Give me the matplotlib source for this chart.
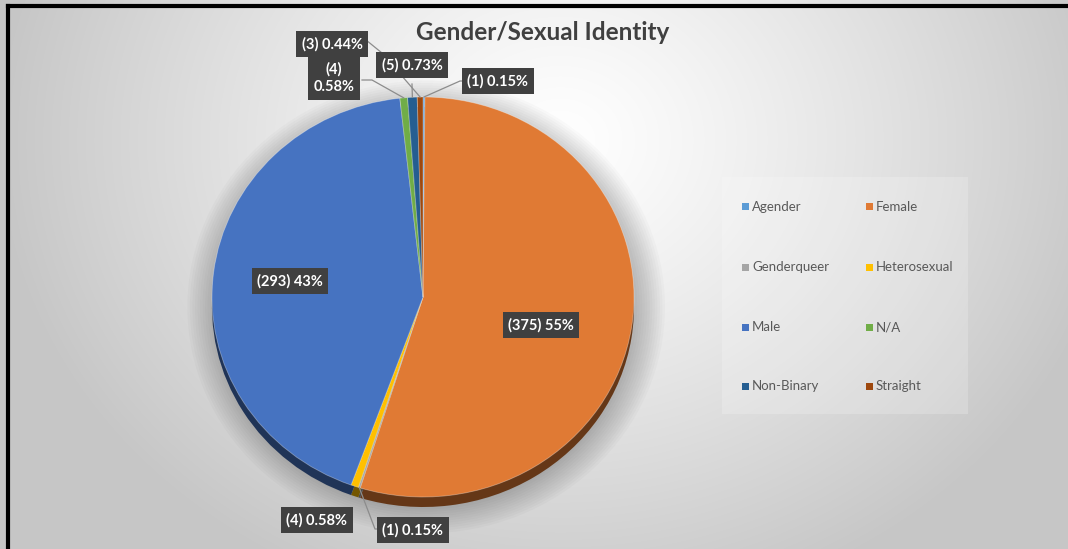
import numpy as np
import matplotlib
matplotlib.use("Agg")
import matplotlib.pyplot as plt
from matplotlib.patches import Ellipse, Rectangle
from matplotlib.lines import Line2D
import matplotlib.colors as mcolors

# ---- data ----
categories = ["Agender", "Female", "Genderqueer", "Heterosexual",
              "Male", "N/A", "Non-Binary", "Straight"]
counts = [1, 375, 1, 4, 293, 4, 5, 3]
colors = ["#5B9BD5", "#E07A34", "#A5A5A5", "#FFC000",
          "#4673C1", "#70AD47", "#255E91", "#9E480E"]
title = "Gender/Sexual Identity"

W, H = 1068, 549
fig = plt.figure(figsize=(W / 100, H / 100), dpi=100)

def fx(x):
    return x / W

def fy(y):
    return 1 - y / H

# ---- background radial gradient ----
bg = fig.add_axes([0, 0, 1, 1], zorder=-10)
yy, xx = np.mgrid[0:H, 0:W]
d = np.sqrt(((xx - 560) / 560.0) ** 2 + ((yy - 140) / 480.0) ** 2)
d = np.clip(d, 0, 1)
val = 1.0 - 0.22 * d ** 1.2
bg.imshow(np.dstack([val, val, val]), extent=[0, W, H, 0], aspect="auto")
bg.set_xlim(0, W)
bg.set_ylim(H, 0)
bg.axis("off")

# border (top and left)
fig.add_artist(Line2D([fx(8), fx(W)], [fy(6), fy(6)], color="black", lw=3))
fig.add_artist(Line2D([fx(8), fx(8)], [fy(6), fy(H)], color="black", lw=3))

# ---- pie axes (elliptical face) ----
cx, cy, rx, ry = 423, 297, 211, 200
ax = fig.add_axes([fx(cx - rx), fy(cy + ry), 2 * rx / W, 2 * ry / H], zorder=1)
depth = 10.0 / ry

# soft shadow
for k in range(12):
    s = 1.0 + 0.012 * k
    ax.add_patch(Ellipse((0.015, -0.05), 2 * s, 2 * s, facecolor="black",
                         edgecolor="none", alpha=0.02, zorder=0,
                         clip_on=False))

def darken(c, f=0.45):
    r, g, b = mcolors.to_rgb(c)
    return (r * f, g * f, b * f)

# side (depth) of pie
side, _ = ax.pie(counts, colors=[darken(c) for c in colors], startangle=90,
                 counterclock=False, radius=1.0, center=(0, -depth),
                 wedgeprops=dict(linewidth=0))
wedges, _ = ax.pie(counts, colors=colors, startangle=90, counterclock=False,
                   radius=1.0, center=(0, 0),
                   wedgeprops=dict(linewidth=0.6, edgecolor=(1, 1, 1, 0.35)))
for w in side:
    w.set_zorder(1)
    w.set_clip_on(False)
for w in wedges:
    w.set_zorder(2)
    w.set_clip_on(False)
ax.set_aspect("auto")
ax.set_xlim(-1, 1)
ax.set_ylim(-1, 1)
ax.axis("off")

# ---- title ----
fig.text(fx(543), fy(33), title, ha="center", va="center",
         fontsize=17.5, fontweight="bold", color="#404040", family="Lato")

# ---- data labels ----
total = sum(counts)
def lab(v, two_line=False):
    p = v / total * 100
    ps = f"{p:.0f}%" if p >= 10 else f"{p:.2f}%"
    sep = "\n" if two_line else " "
    return f"({v}){sep}{ps}"

label_pos = {
    "Agender": (498, 81),
    "Female": (541, 325),
    "Genderqueer": (413, 530),
    "Heterosexual": (317, 520),
    "Male": (290, 281),
    "N/A": (334, 78),
    "Non-Binary": (412, 65),
    "Straight": (332, 44),
}
two_line = {"N/A"}

fig.canvas.draw()
to_fig = fig.transFigure.inverted()

def edge_point(w, r=1.0):
    th = np.deg2rad((w.theta1 + w.theta2) / 2)
    disp = ax.transData.transform((r * np.cos(th), r * np.sin(th)))
    return to_fig.transform(disp)

leader_color = "#8c8c8c"
for cat, v, w in zip(categories, counts, wedges):
    px, py = label_pos[cat]
    fig.text(fx(px), fy(py), lab(v, cat in two_line), ha="center",
             va="center", fontsize=10.5, fontweight="bold", color="white",
             family="Lato", linespacing=1.35, zorder=5,
             bbox=dict(boxstyle="square,pad=0.38", fc="#404040", ec="none"))

# leader lines (figure coords from label edge to slice edge)
def leader(cat, pts_px):
    w = wedges[categories.index(cat)]
    ex, ey = edge_point(w)
    xs = [fx(p[0]) for p in pts_px] + [ex]
    ys = [fy(p[1]) for p in pts_px] + [ey]
    fig.add_artist(Line2D(xs, ys, color=leader_color, lw=0.9, zorder=4))

leader("Straight", [(366, 40), (382, 53)])
leader("N/A", [(362, 80), (372, 80)])
leader("Non-Binary", [(412, 84)])
leader("Agender", [(466, 81), (460, 81)])
leader("Genderqueer", [(381, 529), (375, 529)])

# ---- legend ----
fig.add_artist(Rectangle((fx(722), fy(414)), 246 / W, 237 / H,
                         transform=fig.transFigure, facecolor="white",
                         alpha=0.2, edgecolor="none", zorder=1))
col_x = [742, 866]
row_y = [207, 267, 327, 386]
for i, (cat, c) in enumerate(zip(categories, colors)):
    r, k = divmod(i, 2)
    x0, y0 = col_x[k], row_y[r]
    fig.add_artist(Rectangle((fx(x0), fy(y0 + 3.5)), 7 / W, 7 / H,
                             transform=fig.transFigure, facecolor=c,
                             edgecolor="none", zorder=3))
    fig.text(fx(x0 + 10), fy(y0), cat, ha="left", va="center",
             fontsize=9.5, color="#595959", family="Lato", zorder=3)

fig.savefig("out.png", dpi=100)
